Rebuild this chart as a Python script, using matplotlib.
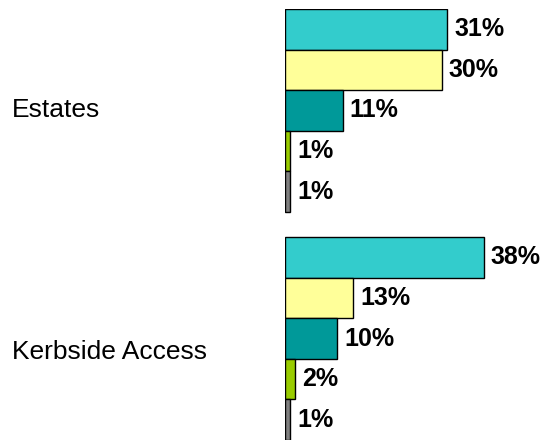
import matplotlib.pyplot as plt
import matplotlib.transforms as mtransforms

plt.rcParams['font.family'] = ['Liberation Sans', 'DejaVu Sans']

categories = ['Estates', 'Kerbside Access']
# one row of shares per category, in the order the bars are stacked top to bottom
shares = [
    [31, 30, 11, 1, 1],
    [38, 13, 10, 2, 1],
]
bar_colors = ['#33CCCC', '#FFFF99', '#009999', '#99CC00', '#808080']

cat_step = 5.62     # distance between category groups, in bar slots
label_step = 5.96   # the category names drift a little lower than the groups

fig = plt.figure(figsize=(5.44, 4.40), dpi=100)
ax = fig.add_axes([285 / 544, 0.0, 259 / 544, 1 - 9 / 440])
trans = mtransforms.blended_transform_factory(fig.transFigure, ax.transData)

for c, (name, vals) in enumerate(zip(categories, shares)):
    for i, v in enumerate(vals):
        y = c * cat_step + i
        ax.barh(y, v, height=1.0, color=bar_colors[i], edgecolor='black',
                linewidth=1.0)
        ax.annotate(f'{v}%', xy=(v, y), xytext=(5, 0), textcoords='offset points',
                    ha='left', va='center', fontsize=18, fontweight='bold')
    # category name sits on the left, outside the axes
    ax.text(12 / 544, c * label_step + 2.0, name, transform=trans, ha='left',
            va='center', fontsize=19, clip_on=False)

ax.set_xlim(0, 259 / 5.23)
ax.set_ylim(len(categories) * cat_step - cat_step + 4.5, -0.5)
for s in ax.spines.values():
    s.set_visible(False)
ax.set_xticks([])
ax.set_yticks([])
ax.patch.set_alpha(0)

fig.savefig('out.png', dpi=100)
